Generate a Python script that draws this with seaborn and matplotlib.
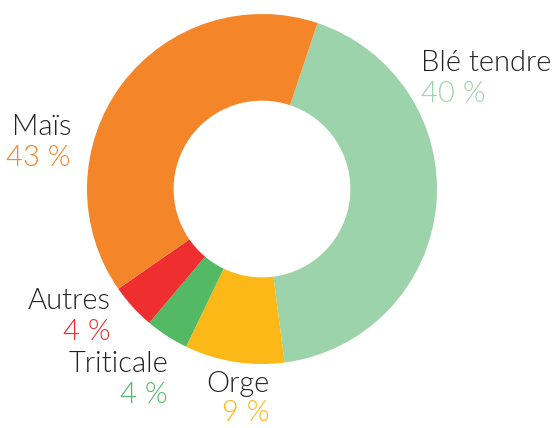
import matplotlib
matplotlib.use('Agg')
import matplotlib.pyplot as plt
import seaborn as sns

cultures = ['Blé tendre', 'Orge', 'Triticale', 'Autres', 'Maïs']
parts = [42.8, 9.2, 4.0, 4.2, 39.8]
pct_labels = ['40 %', '9 %', '4 %', '4 %', '43 %']
colors = ['#9dd3aa', '#fbb817', '#53b964', '#ee2e2f', '#f58529']

sns.set_theme(style='white')
plt.rcParams['font.family'] = ['Lato', 'DejaVu Sans']

W, H = 554, 428
fig = plt.figure(figsize=(W / 100, H / 100), dpi=100)
ax = fig.add_axes([0, 0, 1, 1])

# work in pixel units, y pointing up
cx, cy, R = 262, H - 189, 175
ax.pie(parts, colors=colors, startangle=71.5, counterclock=False,
       center=(cx, cy), radius=R,
       wedgeprops=dict(width=R * 0.495, linewidth=0))

# label anchors (x, y of name line, alignment)
anchors = {
    'Blé tendre': (421, 63, 'left'),
    'Maïs': (71, 127, 'right'),
    'Autres': (111, 301, 'right'),
    'Triticale': (168, 364, 'right'),
    'Orge': (270, 384, 'right'),
}
for name, pct, col in zip(cultures, pct_labels, colors):
    x, y, ha = anchors[name]
    gap = 29 if name == 'Orge' else 31
    # weight 300 = Lato Light (matplotlib's 'light' maps to 200 -> hairline)
    ax.text(x, H - y, name, ha=ha, va='center', fontsize=21,
            fontweight=300, color='#222222')
    ax.text(x, H - y - gap, pct, ha=ha, va='center', fontsize=21,
            fontweight=300, color=col)

ax.set_xlim(0, W)
ax.set_ylim(0, H)
ax.set_aspect('equal')
ax.axis('off')

plt.savefig('out.png', dpi=100)
